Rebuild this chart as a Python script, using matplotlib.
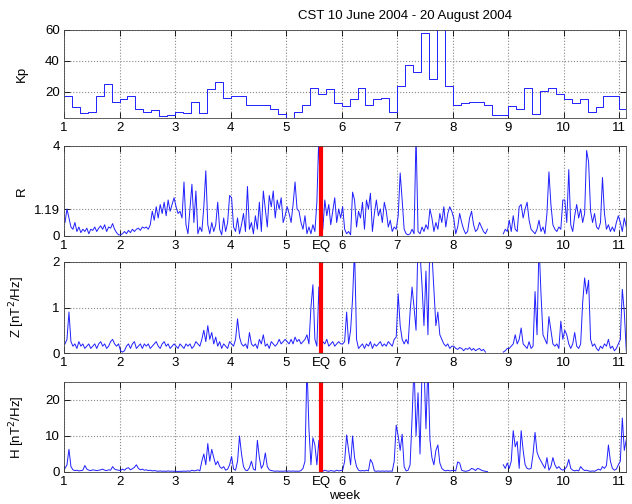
import numpy as np
import matplotlib.pyplot as plt

plt.rcParams['font.family'] = ['Liberation Sans', 'DejaVu Sans']
plt.rcParams['font.size'] = 9.5

nan = np.nan

# daily Kp (sum/10 style values), 10 June - 20 August 2004
kp_daily = [17, 10, 6, 7, 17, 25, 13.5,
            15, 17, 9, 7, 8, 4, 5,
            7, 6, 13.5, 6, 22, 26.5, 15.7,
            17, 17, 11.3, 11.3, 11.3, 9, 5.7,
            3, 7, 11.3, 22.6, 18.7, 22, 12.8,
            11, 15, 22.6, 11.5, 15, 15.7, 7,
            24, 37.4, 33, 58, 28.5, 67, 24,
            11.5, 12.8, 13.3, 13.3, 11.3, 5, 5,
            11, 9, 22.6, 5.7, 20.4, 22.6, 18.7,
            15, 12.8, 15, 7, 10, 17, 17,
            9]

# 6-hourly values, 28 per week
r_vals = [
    0.6, 1.2, 0.8, 0.4, 0.3, 0.6, 0.2, 0.4, 0.15, 0.3, 0.2, 0.35, 0.1, 0.3, 0.25, 0.4, 0.2, 0.35, 0.45, 0.3, 0.5, 0.2, 0.4, 0.35, 0.55, 0.3, 0.15, 0.05,
    0.05, 0.1, 0.2, 0.1, 0.25, 0.15, 0.3, 0.2, 0.3, 0.35, 0.25, 0.4, 0.35, 0.4, 0.3, 0.5, 1.1, 0.7, 1.3, 0.8, 1.4, 1.0, 1.5, 0.9, 1.6, 1.1, 1.4, 1.7,
    1.3, 1.0, 1.1, 0.8, 2.4, 0.5, 0.1, 1.2, 2.3, 0.6, 2.0, 0.1, 0.4, 0.2, 1.3, 2.9, 0.5, 0.1, 0.6, 0.2, 0.5, 1.5, 0.3, 0.05, 0.8, 0.2, 0.6, 1.8,
    1.7, 0.4, 0.2, 0.8, 0.1, 0.5, 1.0, 0.2, 2.2, 0.3, 0.6, 0.1, 0.9, 0.3, 1.5, 0.2, 2.0, 1.2, 0.4, 1.8, 1.3, 2.0, 0.8, 1.6, 1.2, 1.7, 0.6, 0.9,
    1.3, 1.0, 0.6, 1.4, 2.4, 1.2, 1.1, 0.6, 0.3, 0.9, 0.1, 0.4, 0.1, 0.5, 0.2, 1.5, 4.5, 0.1, 0.3, 1.6, 0.9, 1.4, 0.5, 1.1, 1.7, 0.6, 1.2, 0.8,
    1.3, 0.3, 0.1, 0.2, 0.05, 1.95, 1.6, 0.4, 1.1, 0.8, 1.5, 0.3, 1.6, 1.2, 1.9, 0.2, 1.0, 1.6, 0.9, 1.2, 0.6, 1.5, 1.1, 0.4, 0.7, 0.2, 0.4, 0.3,
    0.9, 2.8, 1.6, 0.3, 0.1, 0.05, 0.1, 0.3, 0.1, 4.5, 0.2, 0.1, 0.4, 0.2, 0.5, 0.3, 1.2, 0.8, 0.2, 0.6, 0.3, 1.0, 0.6, 1.3, 0.4, 1.0, 1.3, 1.1,
    0.8, 0.1, 0.4, 1.0, 0.6, 0.3, 0.1, 0.2, 0.8, 1.1, 0.5, 0.2, 0.3, 0.6, 0.4, 0.2, 0.1, 0.3, nan, nan, nan, nan, nan, nan, nan, 0.1, 0.3, 0.2,
    0.7, 0.2, 0.9, 0.3, 0.2, 1.3, 1.4, 0.8, 1.2, 1.5, 0.7, 0.3, 0.2, 0.1, 0.3, 0.7, 0.2, 0.4, 0.1, 1.0, 2.85, 1.4, 0.5, 0.3, 0.2, 0.4, 0.3, 1.6,
    1.6, 0.6, 2.95, 0.5, 0.2, 0.9, 1.4, 0.8, 1.2, 0.6, 1.0, 3.8, 3.3, 1.1, 0.6, 1.0, 0.4, 0.3, 0.6, 2.6, 1.0, 0.3, 0.5, 0.2, 0.4, 0.2, 0.6, 0.9,
    0.6, 0.2, 0.8, 0.4]

z_vals = [
    0.2, 0.3, 0.9, 0.25, 0.15, 0.2, 0.1, 0.25, 0.15, 0.2, 0.1, 0.15, 0.2, 0.1, 0.15, 0.2, 0.1, 0.2, 0.25, 0.15, 0.2, 0.1, 0.15, 0.25, 0.3, 0.2, 0.15, 0.2,
    0.05, 0.02, 0.05, 0.15, 0.2, 0.1, 0.2, 0.25, 0.1, 0.15, 0.2, 0.1, 0.2, 0.15, 0.2, 0.1, 0.15, 0.2, 0.25, 0.15, 0.1, 0.2, 0.25, 0.15, 0.2, 0.1, 0.15, 0.2,
    0.15, 0.1, 0.2, 0.15, 0.1, 0.2, 0.15, 0.2, 0.1, 0.15, 0.25, 0.2, 0.15, 0.3, 0.5, 0.25, 0.6, 0.3, 0.45, 0.2, 0.35, 0.15, 0.25, 0.1, 0.2, 0.15, 0.1, 0.25,
    0.2, 0.15, 0.3, 0.75, 0.35, 0.2, 0.15, 0.2, 0.1, 0.45, 0.2, 0.15, 0.2, 0.1, 0.3, 0.2, 0.4, 0.15, 0.2, 0.1, 0.25, 0.2, 0.15, 0.2, 0.3, 0.2, 0.25, 0.3,
    0.25, 0.2, 0.3, 0.2, 0.35, 0.25, 0.3, 0.2, 0.25, 0.3, 0.4, 0.2, 1.0, 1.5, 0.3, 0.15, 1.45, 0.1, 0.25, 0.2, 0.3, 0.15, 0.2, 0.25, 0.15, 0.2, 0.25, 0.2,
    0.2, 0.25, 0.9, 0.2, 0.5, 1.2, 2.3, 0.3, 0.1, 0.15, 0.2, 0.1, 0.2, 0.15, 0.25, 0.1, 0.2, 0.15, 0.2, 0.25, 0.15, 0.2, 0.15, 0.25, 0.2, 0.15, 0.3, 0.35,
    1.3, 0.6, 0.3, 0.2, 0.3, 0.2, 0.9, 1.45, 1.0, 0.5, 2.5, 2.2, 1.5, 0.6, 1.8, 0.4, 2.5, 2.2, 1.4, 0.6, 0.9, 0.4, 0.3, 0.2, 0.15, 0.2, 0.1, 0.15,
    0.15, 0.1, 0.08, 0.12, 0.1, 0.05, 0.1, 0.08, 0.12, 0.06, 0.1, 0.05, 0.08, 0.1, 0.05, 0.08, 0.02, nan, nan, nan, nan, nan, nan, nan, nan, 0.02, 0.05, 0.1,
    0.1, 0.15, 0.2, 0.4, 0.2, 0.3, 0.55, 0.2, 0.15, 0.1, 0.25, 0.1, 0.15, 1.35, 0.4, 2.4, 1.3, 0.4, 0.3, 0.2, 0.8, 0.5, 0.2, 0.15, 0.2, 0.1, 0.7, 0.3,
    0.5, 0.4, 0.2, 0.1, 0.2, 0.45, 0.15, 0.1, 0.2, 1.1, 1.65, 1.3, 1.6, 0.3, 0.15, 0.2, 0.1, 0.05, 0.15, 0.1, 0.2, 0.15, 0.3, 0.1, 0.15, 0.05, 0.1, 0.2,
    0.3, 1.4, 0.9, 0.05]

h_vals = [
    1.0, 2.0, 6.3, 1.5, 0.6, 0.4, 0.5, 0.3, 0.4, 0.5, 1.8, 0.8, 0.5, 0.4, 0.6, 0.5, 0.4, 0.5, 0.6, 0.8, 0.5, 0.4, 0.6, 0.5, 1.5, 0.8, 0.6, 0.5,
    0.4, 0.8, 0.5, 1.0, 1.2, 0.6, 0.9, 1.3, 2.0, 1.0, 0.6, 0.8, 0.5, 0.6, 0.4, 0.5, 0.3, 0.4, 0.3, 0.2, 0.3, 0.2, 0.25, 0.2, 0.3, 0.2, 0.25, 0.2,
    0.2, 0.15, 0.2, 0.2, 0.25, 0.2, 0.3, 0.2, 0.5, 0.3, 0.4, 0.6, 0.3, 3.0, 5.0, 2.0, 7.9, 3.0, 6.3, 4.0, 2.0, 3.0, 1.5, 1.0, 1.5, 0.5, 0.8, 2.0,
    4.3, 0.8, 0.5, 3.0, 10.0, 5.0, 1.5, 0.5, 0.4, 1.2, 3.0, 0.8, 0.5, 8.8, 4.0, 1.0, 2.0, 5.3, 1.5, 0.6, 0.4, 0.3, 0.2, 0.3, 0.2, 0.25, 0.2, 0.3,
    0.2, 0.3, 0.2, 0.3, 0.2, 0.25, 0.2, 0.4, 1.0, 3.0, 30.0, 12.0, 2.0, 9.5, 7.5, 2.0, 8.8, 0.3, 0.2, 0.5, 0.3, 0.2, 0.4, 0.3, 0.2, 0.5, 0.3, 0.4,
    0.5, 3.0, 10.3, 6.0, 2.0, 10.0, 4.0, 1.5, 0.5, 0.3, 0.4, 0.3, 0.5, 0.3, 3.5, 2.5, 0.3, 0.2, 0.3, 0.2, 0.3, 0.2, 0.3, 0.2, 0.3, 0.2, 3.0, 13.0,
    10.0, 6.0, 10.5, 1.5, 0.3, 0.5, 2.0, 15.0, 30.0, 10.0, 22.0, 5.0, 28.0, 30.0, 12.0, 30.0, 9.0, 4.0, 2.0, 6.0, 7.5, 2.5, 1.0, 0.5, 0.3, 0.5, 0.3, 0.4,
    0.5, 0.3, 2.8, 2.5, 0.5, 0.3, 0.2, 0.3, 0.5, 1.0, 0.8, 0.4, 1.0, 0.8, 0.5, 0.3, 0.2, 0.1, nan, nan, nan, nan, nan, nan, nan, 2.0, 1.0, 2.5,
    1.0, 3.0, 11.5, 7.0, 8.5, 1.0, 11.5, 6.0, 2.0, 1.0, 0.8, 1.0, 5.0, 11.0, 5.5, 4.0, 3.0, 2.0, 1.0, 4.0, 0.5, 1.5, 4.0, 2.0, 1.0, 1.5, 0.8, 0.5,
    0.8, 1.5, 3.5, 1.0, 0.5, 0.3, 0.5, 0.3, 1.5, 0.8, 0.4, 0.5, 0.3, 0.2, 0.3, 0.2, 0.5, 0.8, 0.5, 1.5, 1.0, 1.8, 7.5, 3.0, 1.0, 0.5, 0.8, 2.0,
    3.0, 15.0, 6.0, 9.0]

eq_week = 5.63
week_ticks = list(range(1, 12))

# time axes in weeks (week 1 = 10 June)
kp_edges = 1 + np.arange(len(kp_daily) + 1) / 7.0
kp_step = kp_daily + [kp_daily[-1]]
t6 = 1 + (np.arange(len(r_vals)) + 0.5) / 28.0

fig = plt.figure(figsize=(6.32, 5.04), dpi=100)
L, W = 64 / 632, 562 / 632
boxes = [(118, 88), (236, 90), (353, 91), (472, 90)]
axes = [fig.add_axes([L, 1 - b / 504, W, h / 504]) for b, h in boxes]

line_kw = dict(color='#2020ff', lw=0.7)

ax = axes[0]
ax.step(kp_edges, kp_step, where='post', **line_kw)
ax.set_ylim(3, 60)
ax.set_yticks([20, 40, 60])
ax.set_xticks(week_ticks)
ax.set_ylabel('Kp')

panels = [(axes[1], r_vals, (0, 4), [0, 1.19, 4], ['0', '1.19', '4'], 'R'),
          (axes[2], z_vals, (0, 2), [0, 1, 2], ['0', '1', '2'], 'Z [nT$^2$/Hz]'),
          (axes[3], h_vals, (0, 25), [0, 10, 20], ['0', '10', '20'], 'H [nT$^2$/Hz]')]
for ax, vals, yl, yt, ytl, lab in panels:
    ax.plot(t6, vals, **line_kw)
    ax.axvline(eq_week, color='red', lw=3)
    ax.set_ylim(*yl)
    ax.set_yticks(yt)
    ax.set_yticklabels(ytl)
    ticks = [1, 2, 3, 4, 5, eq_week] + week_ticks[5:]
    ax.set_xticks(ticks)
    ax.set_xticklabels([str(t) for t in range(1, 6)] + ['EQ'] + [str(t) for t in range(6, 12)])
    ax.set_ylabel(lab)

for ax in axes:
    ax.set_xlim(1, 11.12)
    ax.grid(True, ls=':', color='#888888', lw=0.8)
    ax.tick_params(direction='in', top=True, right=True, length=4, width=0.6, pad=3)
    for s in ax.spines.values():
        s.set_linewidth(0.6)
        s.set_color('#444444')
    ax.yaxis.set_label_coords(-0.065, 0.5)

axes[3].set_xlabel('week', labelpad=1)
fig.text(405 / 632, 1 - 16 / 504, 'CST 10 June 2004 - 20 August 2004', ha='center', va='center')

fig.savefig('out.png', dpi=100)
